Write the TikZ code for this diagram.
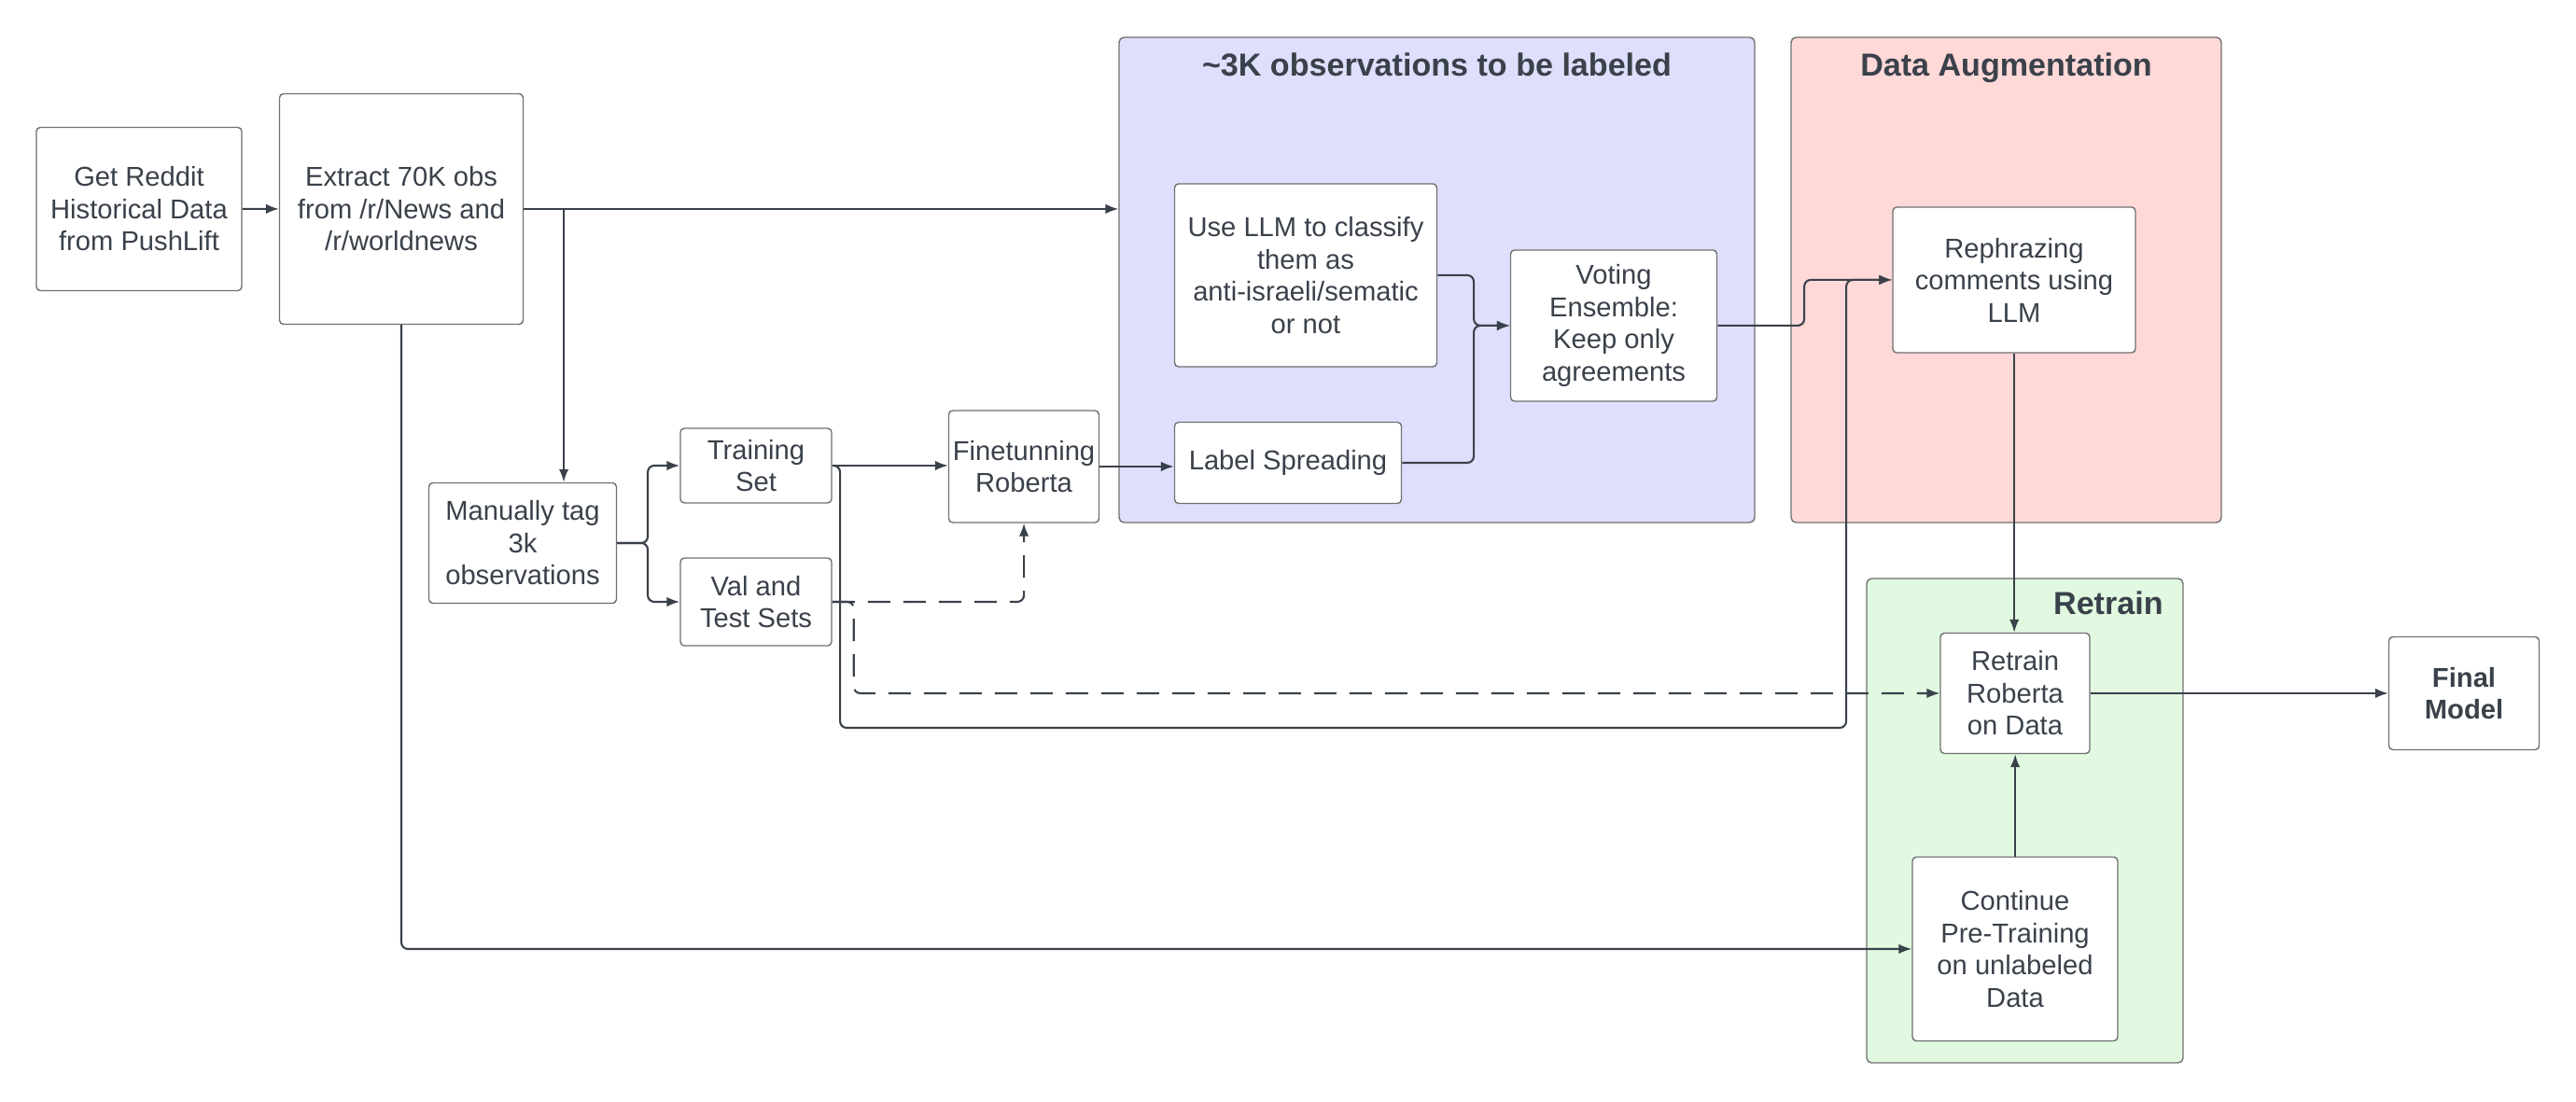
\documentclass[tikz,border=0pt]{standalone}
\usepackage{fontspec}
\setmainfont{Liberation Sans}
\usepackage{tikz}
\usetikzlibrary{arrows,arrows.meta,%
                shapes,positioning}
\definecolor{ink}{RGB}{58,65,74}
\definecolor{edgegray}{RGB}{112,112,112}
\definecolor{labelblue}{RGB}{222,223,252}
\definecolor{augred}{RGB}{255,216,216}
\definecolor{retrainfill}{RGB}{224,249,224}
\tikzset{
  stepbox/.style={draw=edgegray, fill=white, rounded corners=1.2pt, align=center,
                  inner sep=1pt, text=ink, font=\fontsize{8.3}{9.8}\selectfont, line width=0.4pt},
  region/.style={draw=edgegray, rounded corners=1.5pt, line width=0.4pt},
  regiontitle/.style={text=ink, font=\fontsize{9.7}{11}\selectfont\bfseries},
  flow/.style={draw=ink, line width=0.6pt, -{Latex[length=1.4mm,width=1.05mm]}, rounded corners=2pt},
  dashflow/.style={flow, dash pattern=on 2.4mm off 1.4mm}
}

\begin{document}
\begin{tikzpicture}[scale=0.10]
\useasboundingbox (0,0) rectangle (276,118);
% groups
\node[region, fill=labelblue, minimum width=68.1mm, minimum height=52mm] (labelbox) at (153.95,88) {};
\node[region, fill=augred, minimum width=46.1mm, minimum height=52mm] (augbox) at (214.95,88) {};
\node[region, fill=retrainfill, minimum width=33.9mm, minimum height=51.9mm] (retrainbox) at (216.95,30.05) {};
\node[regiontitle, anchor=base] (labeltitle) at (153.95,109.8) {\textasciitilde 3K observations to be labeled};
\node[regiontitle, anchor=base] (augtitle) at (214.95,109.8) {Data Augmentation};
\node[regiontitle, anchor=base east] (retraintitle) at (233.0,52.1) {Retrain};
% steps
\node[stepbox, minimum width=22mm, minimum height=17.5mm] (get) at (14.9,95.6) {Get Reddit\\Historical Data\\from PushLift};
\node[stepbox, minimum width=26.1mm, minimum height=24.7mm] (extract) at (43.0,95.6) {Extract 70K obs\\from /r/News and\\/r/worldnews};
\node[stepbox, minimum width=20.1mm, minimum height=12.9mm] (tag) at (56.0,59.8) {Manually tag\\3k\\observations};
\node[stepbox, minimum width=16.2mm, minimum height=8mm] (train) at (81.0,68.1) {Training\\Set};
\node[stepbox, minimum width=16.2mm, minimum height=9.4mm] (val) at (81.0,53.5) {Val and\\Test Sets};
\node[stepbox, minimum width=16.1mm, minimum height=12mm] (fine) at (109.7,68.0) {Finetunning\\Roberta};
\node[stepbox, minimum width=28.1mm, minimum height=19.6mm] (llm) at (139.9,88.5) {Use LLM to classify\\them as\\anti-israeli/sematic\\or not};
\node[stepbox, minimum width=24.3mm, minimum height=8.7mm] (spread) at (138.0,68.4) {Label Spreading};
\node[stepbox, minimum width=22.1mm, minimum height=16.2mm] (vote) at (172.9,83.1) {Voting\\Ensemble:\\Keep only\\agreements};
\node[stepbox, minimum width=26mm, minimum height=15.6mm] (rephr) at (215.8,88.0) {Rephrazing\\comments using\\LLM};
\node[stepbox, minimum width=16mm, minimum height=12.9mm] (retrain) at (215.9,43.7) {Retrain\\Roberta\\on Data};
\node[stepbox, minimum width=22mm, minimum height=19.7mm] (cont) at (215.9,16.3) {Continue\\Pre-Training\\on unlabeled\\Data};
\node[stepbox, minimum width=16.1mm, minimum height=12.1mm, font=\fontsize{8.3}{9.8}\selectfont\bfseries] (final) at (264.0,43.7) {Final\\Model};
% turning points
\coordinate (split) at (60.4,95.6);
\coordinate (fork) at (69.4,59.8);
\coordinate (trainturn) at (90.0,40.0);
\coordinate (augin) at (197.8,40.0);
\coordinate (join) at (157.9,83.1);
\coordinate (voteout) at (193.3,83.1);
% connectors
\draw[flow] (get) -- (extract);
\draw[flow] (extract.east) -- (extract.east -| labelbox.west);
\draw[flow] (split) -- (split |- tag.north);
\draw[flow] (extract.south) |- (cont.west);
\draw[flow] (tag.east) -- (fork) |- (train.west);
\draw[flow] (tag.east) -- (fork) |- (val.west);
\draw[flow] (train.east) -- (train.east -| fine.west);
\draw[dashflow] (val.east) -| (fine.south);
\draw[flow] (train.east) -| (trainturn) -- (augin) |- (rephr.west);
\draw[dashflow] (val.east) -- ++(2.3,0) |- (retrain.west);
\draw[flow] (fine.east) -- (fine.east -| spread.west);
\draw[flow] (llm.east) -| (join) -- (vote.west);
\draw[flow] (spread.east) -| (join) -- (vote.west);
\draw[flow] (vote.east) -- (voteout) |- (rephr.west);
\draw[flow] (rephr.south) -- (rephr.south |- retrain.north);
\draw[flow] (cont.north) -- (retrain.south);
\draw[flow] (retrain.east) -- (final.west);
\end{tikzpicture}
\end{document}
